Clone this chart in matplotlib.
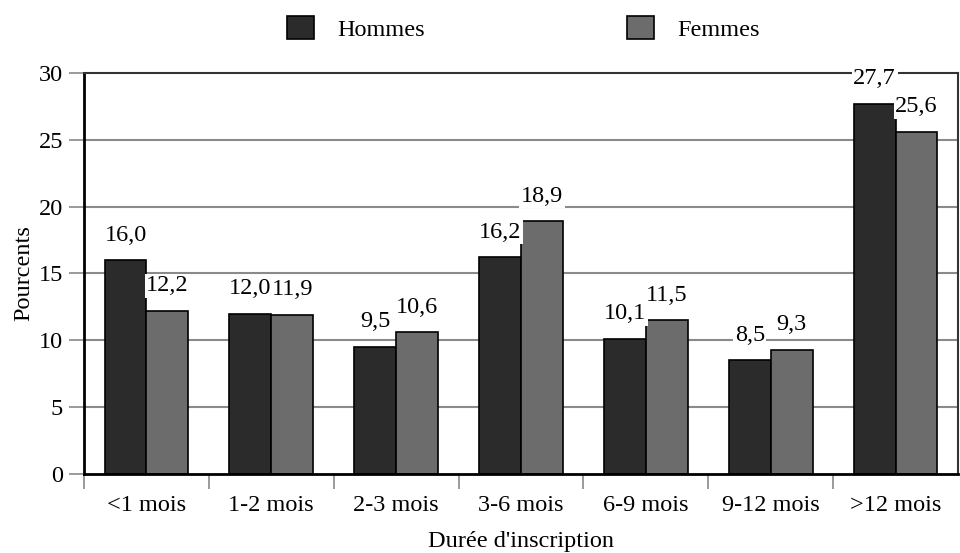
import numpy as np
import matplotlib
matplotlib.use('Agg')
import matplotlib.pyplot as plt
from matplotlib.patches import Patch

# data
categories = ['<1 mois', '1-2 mois', '2-3 mois', '3-6 mois', '6-9 mois', '9-12 mois', '>12 mois']
hommes = [16.0, 12.0, 9.5, 16.2, 10.1, 8.5, 27.7]
femmes = [12.2, 11.9, 10.6, 18.9, 11.5, 9.3, 25.6]
series_names = ['Hommes', 'Femmes']
y_ticks = [0, 5, 10, 15, 20, 25, 30]

plt.rcParams['font.family'] = ['Liberation Serif', 'DejaVu Serif']
plt.rcParams['font.size'] = 17.5

col_h = '#2b2b2b'
col_f = '#6c6c6c'
grid_col = '#8a8a8a'

fig = plt.figure(figsize=(9.6, 5.53), dpi=100)
ax = fig.add_axes([0.0875, 0.143, 0.9105, 0.725])

x = np.arange(len(categories))
w = 0.335
bars_h = ax.bar(x - w / 2, hommes, w, color=col_h, edgecolor='black', linewidth=1.2, zorder=2)
bars_f = ax.bar(x + w / 2, femmes, w, color=col_f, edgecolor='black', linewidth=1.2, zorder=2)


def fmt(v):
    return ('%.1f' % v).replace('.', ',')


for bars, vals in [(bars_h, hommes), (bars_f, femmes)]:
    for b, v in zip(bars, vals):
        ax.annotate(fmt(v), (b.get_x() + b.get_width() / 2, v), xytext=(0, 18),
                    textcoords='offset points', ha='center', va='center', zorder=4,
                    bbox=dict(facecolor='white', edgecolor='none', pad=1.0))

ax.set_xlim(-0.5, len(categories) - 0.5)
ax.set_ylim(0, 30)

# horizontal grid
for yv in y_ticks[1:-1]:
    ax.axhline(yv, color=grid_col, linewidth=1.5, zorder=1)

ax.set_yticks(y_ticks)
ax.tick_params(axis='y', length=11, width=1.2, color=grid_col, pad=4)

# boundaries as major ticks, names on minor ticks at the group centres
ax.set_xticks(np.arange(-0.5, len(categories) - 0.5, 1.0))
ax.set_xticklabels([])
ax.tick_params(axis='x', which='major', length=11, width=1.2, color=grid_col)
ax.set_xticks(x, minor=True)
ax.set_xticklabels(categories, minor=True)
ax.tick_params(axis='x', which='minor', length=0, pad=15)

for s in ['left', 'bottom']:
    ax.spines[s].set_linewidth(2)
for s in ['top', 'right']:
    ax.spines[s].set_linewidth(1.5)
    ax.spines[s].set_color('#333333')

ax.set_ylabel('Pourcents', labelpad=3)
ax.set_xlabel("Durée d'inscription", labelpad=11)

handles = [Patch(facecolor=col_h, edgecolor='black', linewidth=1.2),
           Patch(facecolor=col_f, edgecolor='black', linewidth=1.2)]
fig.legend(handles, series_names, ncol=2, loc='center', bbox_to_anchor=(0.545, 0.949),
           frameon=False, handlelength=1.12, handleheight=1.12, handletextpad=0.95,
           columnspacing=8.3)

fig.savefig('out.png', dpi=100)
